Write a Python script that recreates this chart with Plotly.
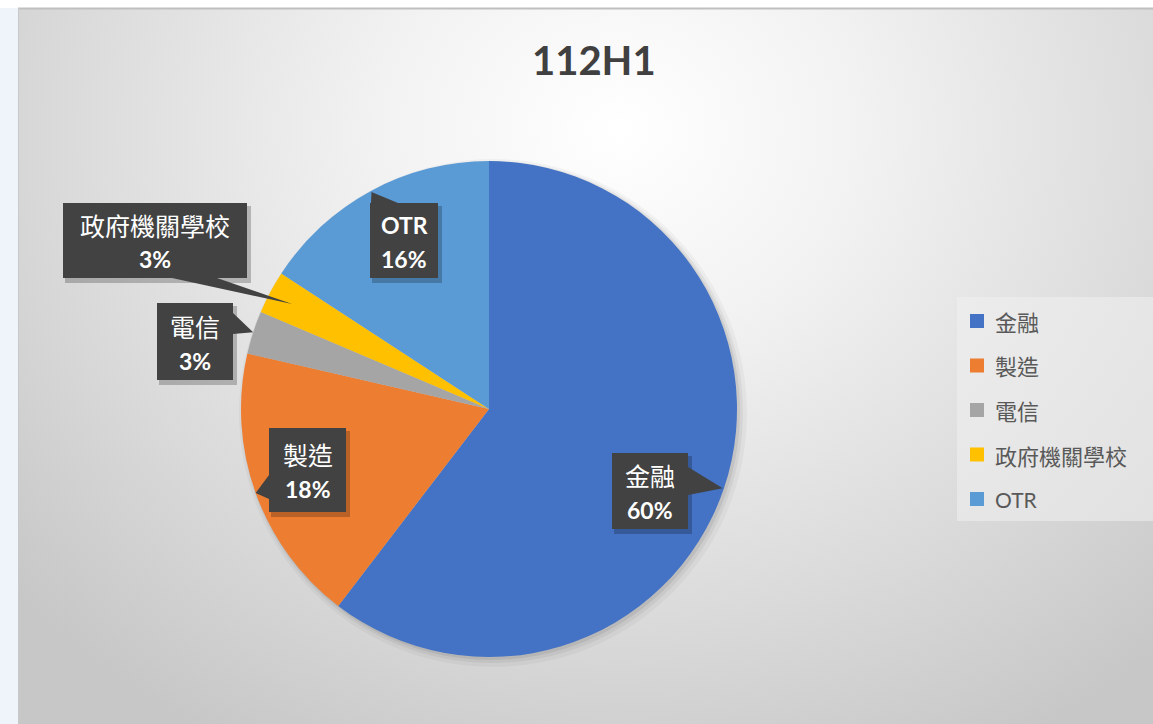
import base64
import math
import plotly.graph_objects as go

# ---------------- data ----------------
categories = ["金融", "製造", "電信", "政府機關學校", "OTR"]
values = [60.4, 18.2, 2.8, 2.8, 15.8]
title_text = "112H1"

# ---------------- styles / layout ----------------
colors = ["#4472C4", "#ED7D31", "#A5A5A5", "#FFC000", "#5B9BD5"]
W, H = 1153, 724
CX, CY, R = 489, 409, 248          # pie centre / radius in px

# label boxes: centre x, centre y, width, height (px)
box_cx = [650, 307.5, 195, 155, 404]
box_cy = [491, 470, 341.5, 240.5, 240.5]
box_w = [76, 77, 76, 184, 68]
box_h = [76, 84, 77, 75, 75]
# pointer base (two points on box edge, px)
ptr_base = [
    [(688, 467), (688, 495)],
    [(269, 475), (269, 499)],
    [(233, 313), (233, 334)],
    [(172, 278), (217, 278)],
    [(371, 203), (398, 203)],
]
tip_frac = [0.995, 1.0, 1.0, 0.9, 0.995]

CJK = "'Noto Sans CJK TC', 'Noto Sans CJK SC', sans-serif"
LAT = "Lato, 'Noto Sans CJK TC', sans-serif"


def px(x):
    return x / W


def py(y):
    return 1 - y / H


# background gradient as an inline SVG image
svg = f"""<svg xmlns='http://www.w3.org/2000/svg' width='{W-19}' height='{H-8}' viewBox='0 0 {W-19} {H-8}' preserveAspectRatio='none'>
<defs><radialGradient id='g' gradientUnits='userSpaceOnUse' cx='600' cy='120' r='800'
 gradientTransform='translate(600 120) scale(1 0.88) translate(-600 -120)'>
<stop offset='0' stop-color='#ffffff'/>
<stop offset='0.3' stop-color='#f2f2f2'/>
<stop offset='0.7' stop-color='#dadada'/>
<stop offset='1' stop-color='#c7c7c7'/>
</radialGradient></defs>
<rect x='0' y='0' width='{W-19}' height='{H-8}' fill='url(#g)'/>
</svg>"""
svg_uri = "data:image/svg+xml;base64," + base64.b64encode(svg.encode()).decode()

fig = go.Figure()
fig.add_trace(go.Pie(
    labels=categories,
    values=values,
    sort=False,
    direction="clockwise",
    rotation=0,
    marker=dict(colors=colors, line=dict(width=0)),
    textinfo="none",
    showlegend=False,
    domain=dict(x=[px(CX - R), px(CX + R)], y=[py(CY + R), py(CY - R)]),
    hovertemplate="%{label}: %{percent}<extra></extra>",
))

shapes = []
annotations = []

# left strip and borders
shapes.append(dict(type="rect", xref="paper", yref="paper", x0=0, x1=px(18), y0=0, y1=py(8),
                   fillcolor="#eff3fa", line=dict(width=0), layer="below"))
shapes.append(dict(type="line", xref="paper", yref="paper", x0=px(18), x1=1, y0=py(8.5), y1=py(8.5),
                   line=dict(color="#bfbfbf", width=2), layer="above"))
shapes.append(dict(type="line", xref="paper", yref="paper", x0=px(18.5), x1=px(18.5), y0=0, y1=py(8),
                   line=dict(color="#c8c8c8", width=1), layer="above"))

# soft pie shadow
for off, rad, a in [(4, 6, 0.035), (3, 3, 0.05), (2, 1, 0.07)]:
    shapes.append(dict(type="circle", xref="paper", yref="paper",
                       x0=px(CX - R - rad + off), x1=px(CX + R + rad + off),
                       y0=py(CY + R + rad + off), y1=py(CY - R - rad + off),
                       fillcolor=f"rgba(0,0,0,{a})", line=dict(width=0), layer="below"))

total = sum(values)
cum = 0
for i, (cat, v) in enumerate(zip(categories, values)):
    mid = (cum + v / 2) / total * 2 * math.pi
    cum += v
    tx = CX + R * tip_frac[i] * math.sin(mid)
    ty = CY - R * tip_frac[i] * math.cos(mid)
    x0, x1 = box_cx[i] - box_w[i] / 2, box_cx[i] + box_w[i] / 2
    y0, y1 = box_cy[i] - box_h[i] / 2, box_cy[i] + box_h[i] / 2
    # shadow
    shapes.append(dict(type="rect", xref="paper", yref="paper",
                       x0=px(x0 + 2), x1=px(x1 + 4), y0=py(y1 + 5), y1=py(y0 + 3),
                       fillcolor="rgba(0,0,0,0.22)", line=dict(width=0), layer="above"))
    (bx0, by0), (bx1, by1) = ptr_base[i]
    path = f"M {px(bx0)},{py(by0)} L {px(tx)},{py(ty)} L {px(bx1)},{py(by1)} Z"
    shapes.append(dict(type="path", xref="paper", yref="paper", path=path,
                       fillcolor="#424242", line=dict(width=0), layer="above"))
    shapes.append(dict(type="rect", xref="paper", yref="paper",
                       x0=px(x0), x1=px(x1), y0=py(y1), y1=py(y0),
                       fillcolor="#424242", line=dict(width=0), layer="above"))
    pct = round(v / total * 100)
    is_lat = cat.isascii()
    annotations.append(dict(xref="paper", yref="paper", x=px(box_cx[i]), y=py(box_cy[i] - 16),
                            text=f"<b>{cat}</b>" if is_lat else cat,
                            showarrow=False, xanchor="center", yanchor="middle",
                            font=dict(family=LAT if is_lat else CJK, size=23 if is_lat else 25,
                                      color="#ffffff")))
    annotations.append(dict(xref="paper", yref="paper", x=px(box_cx[i]), y=py(box_cy[i] + 19),
                            text=f"<b>{pct}%</b>", showarrow=False, xanchor="center", yanchor="middle",
                            font=dict(family=LAT, size=23, color="#ffffff")))

# manual legend
shapes.append(dict(type="rect", xref="paper", yref="paper", x0=px(957), x1=1, y0=py(521), y1=py(297),
                   fillcolor="rgba(240,240,240,0.55)", line=dict(width=0), layer="below"))
leg_y0, leg_dy = 321, 44.5
for i, cat in enumerate(categories):
    yc = leg_y0 + i * leg_dy
    shapes.append(dict(type="rect", xref="paper", yref="paper", x0=px(970), x1=px(984),
                       y0=py(yc + 7), y1=py(yc - 7), fillcolor=colors[i], line=dict(width=0),
                       layer="above"))
    annotations.append(dict(xref="paper", yref="paper", x=px(993), y=py(yc), text=cat,
                            showarrow=False, xanchor="left", yanchor="middle",
                            font=dict(family=LAT if cat.isascii() else CJK,
                                      size=21 if cat.isascii() else 22, color="#595959")))

# title
annotations.append(dict(xref="paper", yref="paper", x=px(594), y=py(60), text=f"<b>{title_text}</b>",
                        showarrow=False, xanchor="center", yanchor="middle",
                        font=dict(family=LAT, size=40, color="#404040")))

fig.update_layout(
    width=W, height=H,
    margin=dict(l=0, r=0, t=0, b=0),
    paper_bgcolor="#ffffff",
    plot_bgcolor="rgba(0,0,0,0)",
    showlegend=False,
    shapes=shapes,
    annotations=annotations,
    images=[dict(source=svg_uri, xref="paper", yref="paper", x=px(19), y=py(9),
                 sizex=1 - px(19), sizey=py(9), xanchor="left", yanchor="top",
                 sizing="stretch", layer="below")],
)

fig.write_html("out.html")
